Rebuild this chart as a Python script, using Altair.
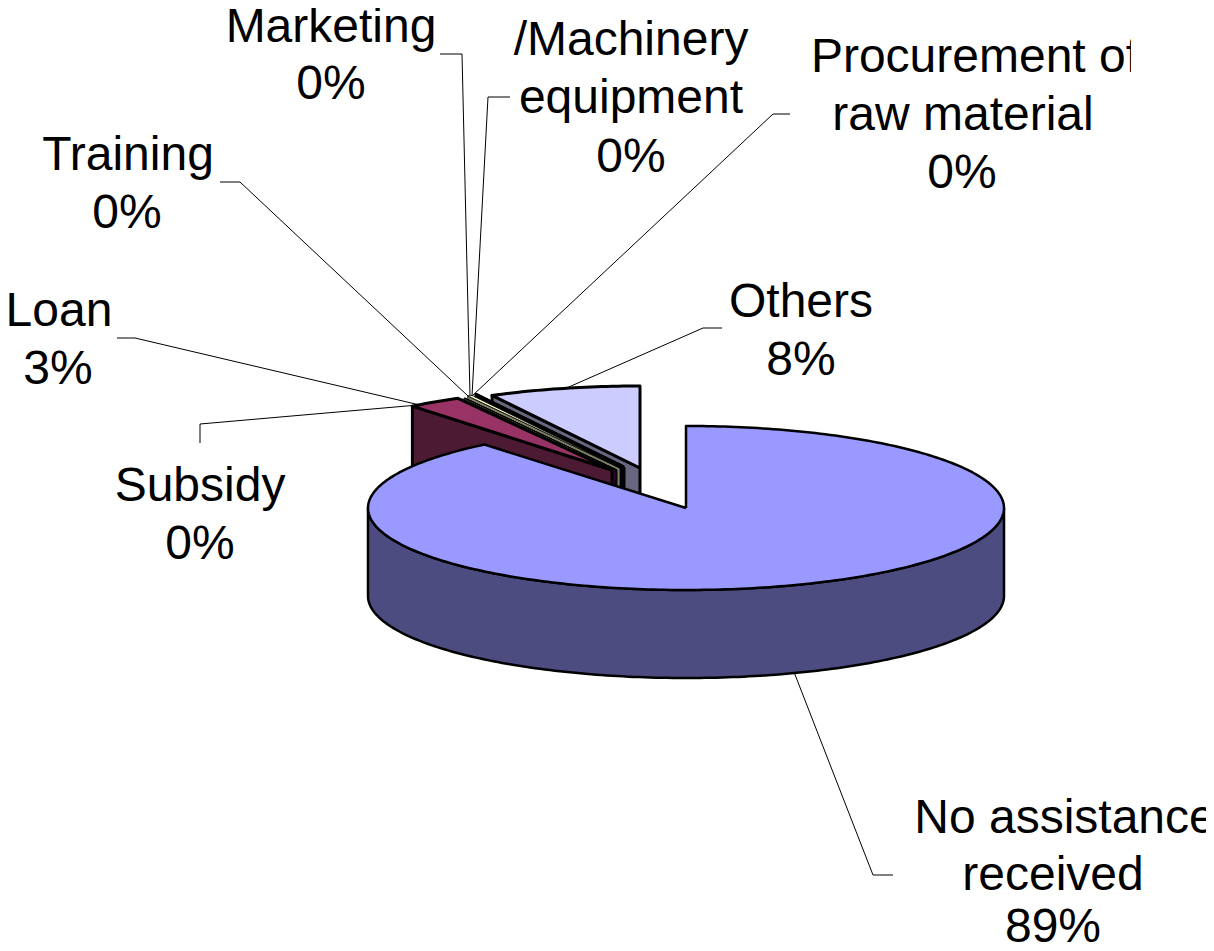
import math
import altair as alt
import pandas as pd

# ---- chart values (percent of respondents, clockwise from 12 o'clock)
categories = ["No assistance received", "Subsidy", "Loan", "Training", "Marketing",
              "/Machinery equipment", "Procurement of raw material", "Others"]
values = [89.08, 0.12, 2.75, 0.1, 0.005, 0.24, 0.005, 7.7]
top_colors = ["#9999FF", "#660066", "#993366", "#FFFFCC", "#CCFFFF", "#FFFFCC", "#000033", "#CCCCFF"]
side_colors = ["#4C4C80", "#330033", "#4D1A33", "#7F7F66", "#7F7F66", "#7F7F66", "#000011", "#66667F"]

# ---- pseudo-3D layout (screen units)
CX, CY, RX, RY, DEPTH = 686, 508, 318, 82, 88
apex_x = [686, 616, 612, 616, 617, 620, 624, 640]
apex_y = [508, 470, 470, 471, 470, 468, 467, 468]
stroke_w = [2.5, 1.5, 3, 1, 1, 0.8, 3, 3]
draw_order = [7, 6, 5, 4, 3, 1, 2, 0]

# ---- labels: (text line, centre x, baseline y)
label_lines = ["Marketing", "0%", "/Machinery", "equipment", "0%", "Procurement of", "raw material", "0%",
               "Training", "0%", "Loan", "3%", "Subsidy", "0%", "Others", "8%",
               "No assistance", "received", "89%"]
label_x = [331, 331, 631, 631, 631, 975, 963, 962, 128, 127, 59, 58, 200, 200, 801, 801, 1065, 1053, 1053]
label_y = [42, 99, 55, 113, 172, 72, 130, 188, 170, 228, 326, 384, 501, 559, 317, 375, 833, 890, 942]

leaders = [
    [(440, 54), (462, 54), (470, 396)],
    [(510, 97), (488, 97), (472, 396)],
    [(790, 114), (773, 114), (472, 396)],
    [(220, 182), (240, 182), (468, 396)],
    [(117, 338), (135, 338), (424, 406)],
    [(200, 443), (200, 424), (418, 405)],
    [(722, 328), (703, 328), (562, 390)],
    [(893, 875), (873, 875), (794, 672)],
]

x_enc = alt.X("x:Q", axis=None, scale=alt.Scale(domain=[8, 1206], nice=False, zero=False))
y_enc = alt.Y("y:Q", axis=None, scale=alt.Scale(domain=[943, 8], nice=False, zero=False))


def polygon(points, fill, width):
    df = pd.DataFrame({"x": [p[0] for p in points], "y": [p[1] for p in points],
                       "i": range(len(points))})
    return alt.Chart(df).mark_line(fill=fill, stroke="black", strokeWidth=width,
                                   strokeJoin="round").encode(x=x_enc, y=y_enc, order="i:Q")


def rim(ax, ay, a0, a1, dy=0):
    n = max(2, int(abs(a1 - a0)) + 2)
    out = []
    for k in range(n):
        a = math.radians(a0 + (a1 - a0) * k / (n - 1))
        out.append((ax + RX * math.sin(a), ay - RY * math.cos(a) + dy))
    return out


# ---- slices
starts = []
total = 0.0
for v in values:
    starts.append(total)
    total += v

layers = []

# leaders lie under the pie
for line in leaders:
    df = pd.DataFrame({"x": [p[0] for p in line], "y": [p[1] for p in line], "i": range(len(line))})
    layers.append(alt.Chart(df).mark_line(color="black", strokeWidth=1).encode(x=x_enc, y=y_enc, order="i:Q"))

for idx in draw_order:
    a0 = starts[idx] * 3.6
    a1 = (starts[idx] + values[idx]) * 3.6
    ax, ay = apex_x[idx], apex_y[idx]
    w = stroke_w[idx]
    if idx == 0:
        front = rim(ax, ay, 90, 270)
        back = rim(ax, ay, 270, 90, DEPTH)
        layers.append(polygon(front + back + front[:1], side_colors[idx], w))
    else:
        outer = rim(ax, ay, a0, a0)[0]
        wall = [(ax, ay), outer, (outer[0], outer[1] + DEPTH), (ax, ay + DEPTH), (ax, ay)]
        layers.append(polygon(wall, side_colors[idx], w))
    face = [(ax, ay)] + rim(ax, ay, a0, a1) + [(ax, ay)]
    layers.append(polygon(face, top_colors[idx], w))

# ---- text
text_df = pd.DataFrame({"t": label_lines, "x": label_x, "y": label_y})
layers.append(alt.Chart(text_df).mark_text(font="Liberation Sans", fontSize=48, color="black",
                                           align="center", baseline="alphabetic")
              .encode(x=x_enc, y=y_enc, text="t:N"))

# the text frame of the original cuts the longest label off at the right
mask_df = pd.DataFrame({"x": [1131], "x2": [1150], "y": [30], "y2": [85]})
layers.append(alt.Chart(mask_df).mark_rect(color="white")
              .encode(x=x_enc, x2="x2:Q", y=y_enc, y2="y2:Q"))

chart = alt.layer(*layers).properties(width=1198, height=935, padding=0, autosize="none",
                                      background="white").configure_view(stroke=None)

chart.save("out.html", embed_options={"renderer": "svg", "actions": False})
